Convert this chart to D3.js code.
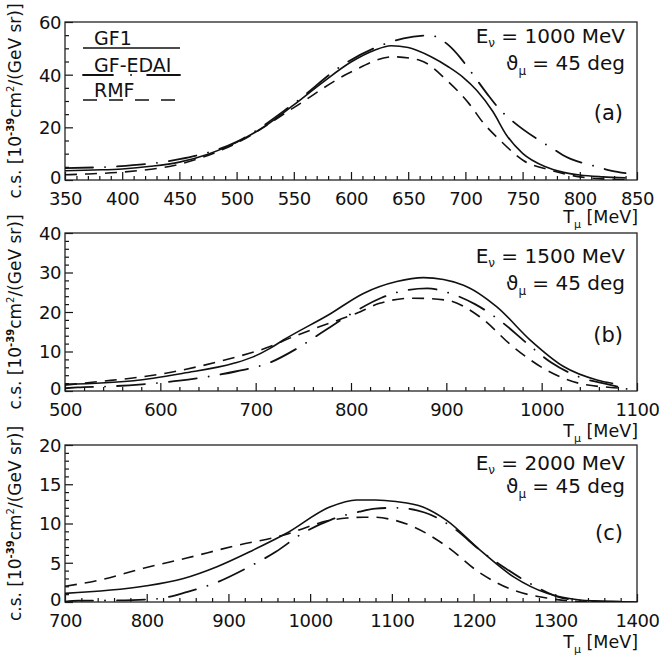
<!DOCTYPE html>
<html><head><meta charset="utf-8">
<script src="https://cdn.jsdelivr.net/npm/d3@7"></script>
<style>
body{margin:0;background:#fff;}
text{font-family:"DejaVu Sans",Arial,sans-serif;fill:#111;}
</style></head>
<body>
<svg id="chart" width="659" height="656"></svg>
<script>
// ---------------- DATA ----------------
// Panel (a): E_nu = 1000 MeV
const aGF1_T  = [350,375,400,425,450,475,500,525,550,575,600,620,635,650,670,685,698,710,724,736,750,770,785,800,820,840];
const aGF1_cs = [3.5,3.8,4.2,5.2,6.8,9.8,14.3,20.5,28.5,37,44.8,49.2,51,50.3,46.8,43.0,39.0,34.0,26.0,17.0,10.1,5.0,3.0,1.9,1.2,0.8];
const aEDAI_T  = [350,393,420,450,500,550,595,620,646,669,685,696,705,721,730,740,764,775,785,815,828,840];
const aEDAI_cs = [4.5,5.1,6.0,7.9,14.5,29,44.3,50,53.8,54.9,51.3,46.2,41,31.6,26.8,22.8,15.2,12.3,9.5,5.0,3.5,2.6];
const aRMF_T  = [350,370,400,450,500,550,600,637,660,685,703,716,730,751,774,800,820,840];
const aRMF_cs = [2.0,2.3,3.0,6.0,14,27.5,41,46.8,45.5,37.3,29.1,21.5,15.2,7.3,3.8,1.2,0.4,0.1];

// Panel (b): E_nu = 1500 MeV
const bGF1_T  = [500,572,624,677,698,715,729,778,813,848,876,918,953,988,1023,1058,1075];
const bGF1_cs = [1.7,2.6,4.5,7.0,8.7,10.8,12.9,19.5,24.7,27.7,28.7,26.8,21.3,12.9,6.2,2.8,1.9];
const bEDAI_T  = [500,513,550,581,620,649,680,715,745,773,800,832,860,880,899,930,958,985,1010,1040,1073,1085];
const bEDAI_cs = [0.7,0.9,1.2,1.7,2.6,3.6,5.0,7.2,11.0,15.4,19.5,23.6,25.6,26.0,25.1,22.0,17.5,12.0,7.2,3.5,1.5,0.8];
const bRMF_T  = [500,536,575,610,640,678,710,738,764,806,830,865,900,935,970,1005,1040,1082,1090];
const bRMF_cs = [1.5,2.4,3.4,4.7,6.2,8.5,10.8,13.6,16.0,19.7,22.2,23.5,23.0,18.8,11.2,5.3,1.9,0.7,0.5];

// Panel (c): E_nu = 2000 MeV
const cGF1_T  = [700,796,845,886,930,971,1024,1057,1080,1105,1138,1167,1208,1249,1290,1330,1370,1400];
const cGF1_cs = [1.1,2.0,3.0,4.5,6.6,8.75,12.1,13.0,13.0,12.8,12.1,10.4,6.6,3.2,1.1,0.25,0.05,0];
const cEDAI_T  = [700,716,760,812,850,888,920,958,990,1026,1060,1080,1103,1140,1177,1208,1239,1270,1309,1340,1400];
const cEDAI_cs = [0.05,0.17,0.2,0.4,1.3,2.6,4.2,6.4,8.7,10.5,11.5,11.9,12.0,11.4,9.3,6.6,4.3,2.3,0.5,0.15,0];
const cRMF_T  = [700,743,796,849,906,967,1024,1045,1065,1077,1100,1126,1167,1208,1249,1290,1330,1370];
const cRMF_cs = [2.0,2.8,4.3,5.6,7.1,8.5,10.4,10.7,10.8,10.8,10.5,9.6,7.1,3.7,1.5,0.5,0.05,0];

// Tick labels
const aXTicks = [350,400,450,500,550,600,650,700,750,800,850];
const aYTicks = [0,20,40,60];
const bXTicks = [500,600,700,800,900,1000,1100];
const bYTicks = [0,10,20,30,40];
const cXTicks = [700,800,900,1000,1100,1200,1300,1400];
const cYTicks = [0,5,10,15,20];

const seriesNames = ["GF1","GF-EDAI","RMF"];
const energies = ["1000","1500","2000"];
const panelLetters = ["(a)","(b)","(c)"];

// ---------------- LAYOUT ----------------
const styles = {
  "GF1":     {dash:null, legendDash:null, cap:"butt", w:1.6},
  "GF-EDAI": {dash:"28,12,0.1,12", legendDash:"30,18,0.1,16,40", cap:"round", w:1.8},
  "RMF":     {dash:"12,8", legendDash:"14,12", cap:"butt", w:1.6}
};
const FONT = '"DejaVu Sans",Arial,sans-serif';
const L = 65, R = 637;
const panels = [
  {top:22, bottom:180, xd:[350,850], yd:[0,60], xt:aXTicks, yt:aYTicks, xMinor:10, yMinor:5,
   series:[[aGF1_T,aGF1_cs],[aEDAI_T,aEDAI_cs],[aRMF_T,aRMF_cs]],
   eY:43, tY:70, lY:120, titleY:223},
  {top:233, bottom:391, xd:[500,1100], yd:[0,40], xt:bXTicks, yt:bYTicks, xMinor:20, yMinor:2,
   series:[[bGF1_T,bGF1_cs],[bEDAI_T,bEDAI_cs],[bRMF_T,bRMF_cs]],
   eY:263, tY:290, lY:342, titleY:437},
  {top:445, bottom:602, xd:[700,1400], yd:[0,20], xt:cXTicks, yt:cYTicks, xMinor:20, yMinor:1,
   series:[[cGF1_T,cGF1_cs],[cEDAI_T,cEDAI_cs],[cRMF_T,cRMF_cs]],
   eY:470, tY:493, lY:540, titleY:648}
];

const svg = d3.select("#chart");

panels.forEach((p,i)=>{
  const x = d3.scaleLinear().domain(p.xd).range([L,R]);
  const y = d3.scaleLinear().domain(p.yd).range([p.bottom,p.top]);
  const g = svg.append("g");

  const cid = "clip"+i;
  svg.append("clipPath").attr("id",cid).append("rect")
    .attr("x",L).attr("y",p.top).attr("width",R-L).attr("height",p.bottom-p.top);

  // minor ticks
  const xMinorVals = d3.range(p.xd[0], p.xd[1]+0.001, p.xMinor).filter(v=>!p.xt.includes(v));
  const yMinorVals = d3.range(p.yd[0], p.yd[1]+0.001, p.yMinor).filter(v=>!p.yt.includes(v));
  g.append("g").attr("transform",`translate(0,${p.bottom})`)
    .call(d3.axisBottom(x).tickValues(xMinorVals).tickSize(-4).tickFormat(""))
    .call(a=>a.select(".domain").remove());
  g.append("g").attr("transform",`translate(${L},0)`)
    .call(d3.axisLeft(y).tickValues(yMinorVals).tickSize(-4).tickFormat(""))
    .call(a=>a.select(".domain").remove());
  // major ticks
  const xa = g.append("g").attr("transform",`translate(0,${p.bottom})`)
    .call(d3.axisBottom(x).tickValues(p.xt).tickSize(-8).tickPadding(12).tickFormat(d3.format("d")));
  xa.select(".domain").remove();
  xa.selectAll("text").attr("font-size",18).attr("dy","0.72em").attr("letter-spacing","-0.4")
    .style("font-family",FONT).attr("fill","#111");
  const ya = g.append("g").attr("transform",`translate(${L},0)`)
    .call(d3.axisLeft(y).tickValues(p.yt).tickSize(-8).tickPadding(4).tickFormat(d3.format("d")));
  ya.select(".domain").remove();
  ya.selectAll("text").attr("font-size",18).attr("letter-spacing","-0.4")
    .attr("dy", d => d===0 ? "0.18em" : "0.36em")
    .style("font-family",FONT).attr("fill","#111");
  g.selectAll(".tick line").attr("stroke","#111").attr("stroke-width",1.2);

  // frame
  g.append("rect").attr("x",L).attr("y",p.top).attr("width",R-L).attr("height",p.bottom-p.top)
    .attr("fill","none").attr("stroke","#222").attr("stroke-width",1.3);

  // curves
  const line = d3.line().x(d=>x(d[0])).y(d=>y(d[1])).curve(d3.curveMonotoneX);
  p.series.forEach((s,k)=>{
    const pts = s[0].map((t,j)=>[t,s[1][j]]);
    const st = styles[seriesNames[k]];
    g.append("path").datum(pts).attr("d",line)
      .attr("clip-path",`url(#${cid})`)
      .attr("fill","none").attr("stroke","#111")
      .attr("stroke-linecap", st.cap)
      .attr("stroke-width", st.w)
      .attr("stroke-dasharray", st.dash);
  });

  // annotations
  const eT = g.append("text").attr("x",625).attr("y",p.eY).attr("text-anchor","end").attr("font-size",20);
  eT.append("tspan").text("E");
  eT.append("tspan").attr("font-size",12).attr("dy",4).text("ν");
  eT.append("tspan").attr("dy",-4).text(` = ${energies[i]} MeV`);
  const tT = g.append("text").attr("x",625).attr("y",p.tY).attr("text-anchor","end").attr("font-size",20);
  tT.append("tspan").text("ϑ");
  tT.append("tspan").attr("font-size",12).attr("dy",5).text("μ");
  tT.append("tspan").attr("dy",-5).text(" = 45 deg");
  g.append("text").attr("x",623).attr("y",p.lY).attr("text-anchor","end").attr("font-size",21).text(panelLetters[i]);

  // x axis title
  const xt = g.append("text").attr("x",638).attr("y",p.titleY).attr("text-anchor","end").attr("font-size",17.5);
  xt.append("tspan").text("T");
  xt.append("tspan").attr("font-size",11).attr("dy",5).text("μ");
  xt.append("tspan").attr("dy",-5).text(" [MeV]");

  // y axis title
  const cy = (p.top+p.bottom)/2;
  const yt = g.append("text").attr("transform",`translate(21,${cy}) rotate(-90)`)
    .attr("text-anchor","middle").attr("font-size",17);
  yt.append("tspan").text("c.s. [10");
  yt.append("tspan").attr("font-size",10).attr("font-weight","bold").attr("dy",-7).text("-39");
  yt.append("tspan").attr("dy",7).text("cm");
  yt.append("tspan").attr("font-size",10).attr("dy",-7).text("2");
  yt.append("tspan").attr("dy",7).text("/(GeV sr)]");
});

// legend in panel (a)
const lg = svg.append("g");
const legRows = [{name:"GF1", ty:45, ly:48},{name:"GF-EDAI", ty:72, ly:75},{name:"RMF", ty:97, ly:100}];
legRows.forEach(r=>{
  const st = styles[r.name];
  lg.append("text").attr("x",94).attr("y",r.ty).attr("font-size",19).text(r.name);
  lg.append("line").attr("x1",83).attr("x2",180).attr("y1",r.ly).attr("y2",r.ly)
    .attr("stroke","#111").attr("stroke-width",st.w)
    .attr("stroke-linecap", st.cap)
    .attr("stroke-dasharray", st.legendDash);
});
</script>
</body></html>
